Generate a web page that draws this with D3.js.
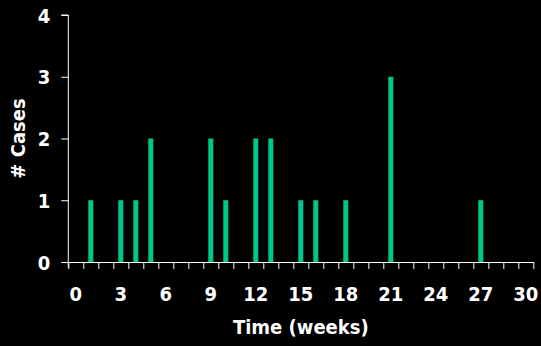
<!DOCTYPE html>
<html><head><meta charset="utf-8">
<script src="https://cdn.jsdelivr.net/npm/d3@7"></script>
<style>
html,body{margin:0;padding:0;background:#000;}
svg{display:block;}
text{font-family:"DejaVu Sans Condensed","DejaVu Sans",sans-serif;font-stretch:condensed;font-weight:bold;fill:#fff;}
</style></head>
<body>
<svg id="c" width="541" height="346"></svg>
<script>
const weeks = d3.range(0, 31);
const barWeeks = [1, 3, 4, 5, 9, 10, 12, 13, 15, 16, 18, 21, 27];
const barCases = [1, 1, 1, 2, 2, 1, 2, 2, 1, 1, 1, 3, 1];
const xTickLabels = [0, 3, 6, 9, 12, 15, 18, 21, 24, 27, 30];
const yTickLabels = [0, 1, 2, 3, 4];
const xTitle = "Time (weeks)";
const yTitle = "# Cases";

const svg = d3.select("#c");
const pL = 68.3, pR = 533.3, pT = 15, pB = 262;

const x = d3.scaleBand().domain(weeks).range([pL, pR]).padding(0);
const xEdge = d3.scaleLinear().domain([0, weeks.length]).range([pL, pR]);
const y = d3.scaleLinear().domain([0, 4]).range([pB, pT]);

// bars
svg.append("g").selectAll("rect").data(barWeeks).join("rect")
  .attr("x", (d) => x(d) + x.step() / 3)
  .attr("width", x.step() / 3)
  .attr("y", (d, i) => y(barCases[i]))
  .attr("height", (d, i) => y(0) - y(barCases[i]))
  .attr("fill", "#00c88c");

// y axis
const ya = svg.append("g").attr("transform", `translate(${pL},0)`)
  .call(d3.axisLeft(y).tickValues(yTickLabels).tickSize(7).tickPadding(11).tickFormat(d3.format("d")));
ya.select(".domain").attr("stroke", "#fff").attr("d", `M-7,${pT}H0V${pB + 6}`);
ya.selectAll(".tick line").attr("stroke", "#fff");
ya.selectAll(".tick text").attr("font-size", 20).attr("fill", "#fff")
  .attr("font-family", null).attr("dy", "0.36em");

// x axis ticks at category boundaries
const xa = svg.append("g").attr("transform", `translate(0,${pB})`)
  .call(d3.axisBottom(xEdge).tickValues(d3.range(0, weeks.length + 1)).tickSizeInner(7).tickSizeOuter(0).tickFormat(""));
xa.select(".domain").attr("stroke", "#fff");
xa.selectAll(".tick line").attr("stroke", "#fff");

// x labels centered in categories
svg.append("g").selectAll("text").data(xTickLabels).join("text")
  .attr("x", (d) => x(d) + x.step() / 2)
  .attr("y", 300.7)
  .attr("text-anchor", "middle")
  .attr("font-size", 20)
  .text((d) => d);

svg.append("text").attr("x", (pL + pR) / 2).attr("y", 334)
  .attr("text-anchor", "middle").attr("font-size", 20).text(xTitle);

svg.append("text").attr("transform", `translate(24.5,${(pT + pB) / 2}) rotate(-90)`)
  .attr("text-anchor", "middle").attr("font-size", 20).text(yTitle);
</script>
</body></html>
